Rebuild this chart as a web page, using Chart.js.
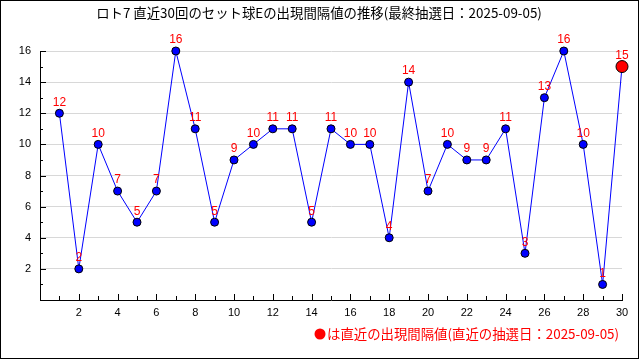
<!DOCTYPE html>
<html><head><meta charset="utf-8">
<script src="https://cdn.jsdelivr.net/npm/chart.js@4/dist/chart.umd.min.js"></script>
<style>html,body{margin:0;padding:0;background:#fff}#wrap{width:640px;height:360px}</style>
</head><body><div id="wrap"><canvas id="c" width="640" height="360"></canvas></div>
<script>
const draws = [1,2,3,4,5,6,7,8,9,10,11,12,13,14,15,16,17,18,19,20,21,22,23,24,25,26,27,28,29,30];
const intervals = [12,2,10,7,5,7,16,11,5,9,10,11,11,5,11,10,10,4,14,7,10,9,9,11,3,13,16,10,1,15];
const titleText = 'ロト7 直近30回のセット球Eの出現間隔値の推移(最終抽選日：2025-09-05)';
const noteText = 'は直近の出現間隔値(直近の抽選日：2025-09-05)';
const yTickLabels = [2,4,6,8,10,12,14,16];
const xTickLabels = [2,4,6,8,10,12,14,16,18,20,22,24,26,28,30];

const points = draws.map((d,i)=>({x:d, y:intervals[i]}));
const lastIdx = points.length-1;

const decor = {
  id:'decor',
  beforeDraw(chart){
    const c = chart.ctx;
    c.save();
    c.fillStyle='#fff'; c.fillRect(0,0,640,360);
    c.restore();
  },
  beforeDatasetsDraw(chart){
    const c = chart.ctx, xs = chart.scales.x, ys = chart.scales.y;
    const a = chart.chartArea;
    c.save();
    c.strokeStyle='#000'; c.lineWidth=1;
    c.beginPath();
    for(let v=1; v<=16; v++){
      const y = Math.round(ys.getPixelForValue(v))+0.5;
      const len = v%2===0?6:3;
      c.moveTo(a.left, y); c.lineTo(a.left+len, y);
    }
    for(let v=1; v<=30; v++){
      const x = Math.round(xs.getPixelForValue(v))+0.5;
      const len = v%2===0?6:4;
      c.moveTo(x, a.bottom); c.lineTo(x, a.bottom-len);
    }
    c.stroke();
    c.restore();
  },
  afterDatasetsDraw(chart){
    const c = chart.ctx;
    const meta = chart.getDatasetMeta(0);
    c.save();
    c.fillStyle='#ff0000';
    c.font='12px "Liberation Sans", sans-serif';
    c.textAlign='center'; c.textBaseline='middle';
    meta.data.forEach((el,i)=>{
      c.fillText(String(intervals[i]), el.x, el.y-11);
    });
    c.restore();
  },
  afterDraw(chart){
    const c = chart.ctx;
    c.save();
    c.strokeStyle='#000'; c.lineWidth=1;
    c.strokeRect(0.5,0.5,638,358);
    c.fillStyle='#000';
    c.font='13.4px "Noto Sans CJK JP", sans-serif';
    c.textAlign='center'; c.textBaseline='middle';
    c.fillText(titleText, 319, 13);
    c.fillStyle='#ff0000';
    c.beginPath(); c.arc(320,334,5.5,0,Math.PI*2); c.fill();
    c.textAlign='left';
    c.fillText(noteText, 327, 334);
    c.restore();
  }
};

new Chart(document.getElementById('c'), {
  type:'line',
  data:{datasets:[{
    data:points,
    borderColor:'#0000ff',
    borderWidth:1,
    tension:0,
    fill:false,
    clip:false,
    pointRadius:points.map((p,i)=>i===lastIdx?6:4),
    pointBackgroundColor:points.map((p,i)=>i===lastIdx?'#ff0000':'#0000ff'),
    pointBorderColor:'#000',
    pointBorderWidth:1
  }]},
  options:{
    responsive:false, animation:false, devicePixelRatio:1,
    layout:{padding:{top:51,right:18,left:0,bottom:0}},
    plugins:{legend:{display:false},title:{display:false},tooltip:{enabled:false}},
    events:[],
    scales:{
      x:{type:'linear',min:0,max:30,
        afterFit(s){s.height=60;},
        ticks:{stepSize:1,autoSkip:false,maxRotation:0,padding:6,color:'#000',
          font:{family:'"Liberation Sans", sans-serif',size:11},
          callback:v=>xTickLabels.includes(v)?String(v):''},
        grid:{display:false,drawTicks:false},
        border:{display:true,color:'#000',width:1}
      },
      y:{min:0,max:16,
        afterFit(s){s.width=40;},
        ticks:{stepSize:1,autoSkip:false,padding:9,color:'#000',
          font:{family:'"Liberation Sans", sans-serif',size:11},
          callback:v=>yTickLabels.includes(v)?String(v):''},
        grid:{drawTicks:false,
          color:ctx=>(ctx.tick && yTickLabels.includes(ctx.tick.value))?'#d8d8d8':'rgba(0,0,0,0)'},
        border:{display:true,color:'#000',width:1}
      }
    }
  },
  plugins:[decor]
});
</script></body></html>
